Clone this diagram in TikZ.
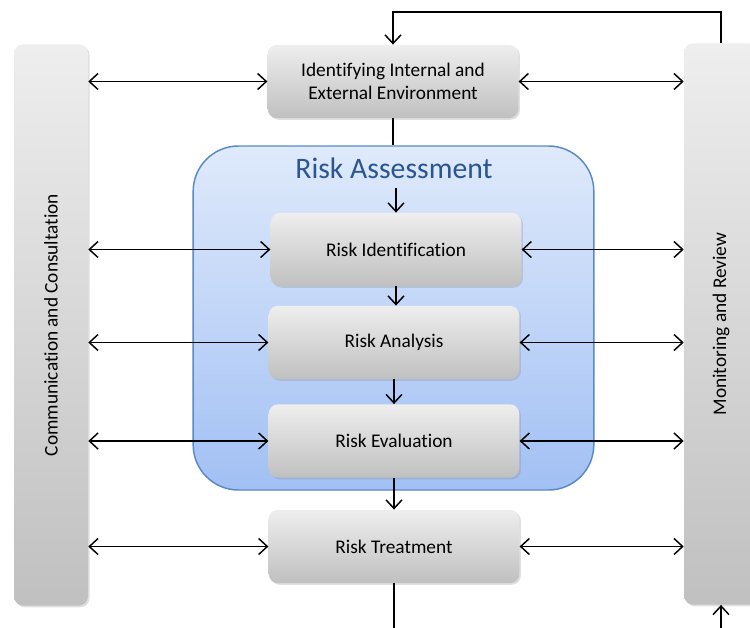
\documentclass[tikz,border=0pt]{standalone}
\usepackage{fontspec}
\setmainfont{Carlito}[Ligatures=NoCommon]
\usepackage{tikz}
\usetikzlibrary{arrows.meta,shadows}

\definecolor{boxtop}{HTML}{EEEEEE}
\definecolor{boxbottom}{HTML}{C0C0C0}
\definecolor{assesstop}{HTML}{DFEAFB}
\definecolor{assessbottom}{HTML}{A2C0F4}
\definecolor{assessline}{HTML}{5A8AC6}
\definecolor{assesstext}{HTML}{2A5590}

\begin{document}
\begin{tikzpicture}[x=0.75pt, y=-0.75pt,
    >={Straight Barb[length=6.5pt,width=12pt]},
    stage/.style={rounded corners=7pt, top color=boxtop, bottom color=boxbottom,
        minimum width=188pt, minimum height=55pt, align=center,
        font=\fontsize{14.5}{17.5}\selectfont,
        drop shadow={opacity=0.25, shadow xshift=1.2pt, shadow yshift=-1.2pt}},
    sidebar/.style={rounded corners=7pt, top color=boxtop, bottom color=boxbottom,
        minimum width=55.5pt, minimum height=421pt,
        drop shadow={opacity=0.25, shadow xshift=1.2pt, shadow yshift=-1.2pt}},
    link/.style={line width=1.1pt}]
    \useasboundingbox (0,0) rectangle (750,628);

    % risk assessment group
    \node[draw=assessline, line width=1.1pt, rounded corners=34pt,
        top color=assesstop, bottom color=assessbottom,
        minimum width=300.5pt, minimum height=258pt] (assess) at (393.5,318) {};
    \node[text=assesstext, font=\fontsize{22.3}{26}\selectfont] (assesstitle) at (394,168) {Risk Assessment};

    % side bars
    \node[sidebar] (comm) at (51,325) {};
    \node[rotate=90, font=\fontsize{14.5}{17.5}\selectfont] (commtext) at (51,325) {Communication and Consultation};
    \node[sidebar] (monitor) at (721,324) {};
    \node[rotate=90, font=\fontsize{14.5}{17.5}\selectfont] (monitortext) at (721,324) {Monitoring and Review};

    % process steps
    \node[stage] (env) at (393,81.5) {Identifying Internal and\\External Environment};
    \node[stage] (ident) at (396,249.5) {Risk Identification};
    \node[stage] (analysis) at (394,342.5) {Risk Analysis};
    \node[stage] (evaluation) at (394,441) {Risk Evaluation};
    \node[stage] (treatment) at (394,546.5) {Risk Treatment};

    \coordinate (assessin) at (396,188);
    \coordinate (treatout) at (394,628);
    \coordinate (monitorin) at (721,628);
    \coordinate (loop) at (721,12);

    % main flow
    \draw[link] (env.south) -- (env.south |- assess.north);
    \draw[link,->] (assessin) -- (ident.north);
    \draw[link,->] (ident.south) -- (ident.south |- analysis.north);
    \draw[link,->] (analysis.south) -- (evaluation.north);
    \draw[link,->] (evaluation.south) -- (treatment.north);
    \draw[link] (treatment.south) -- (treatout);
    \draw[link,->] (monitorin) -- (monitor.south);
    \draw[link,->] (monitor.north) -- (loop) -| (env.north);

    % communication and monitoring links
    \foreach \s in {env,ident,analysis,evaluation,treatment} {
        \draw[link,<->] (comm.east |- \s.west) -- (\s.west);
        \draw[link,<->] (\s.east) -- (monitor.west |- \s.east);
    }
\end{tikzpicture}
\end{document}
